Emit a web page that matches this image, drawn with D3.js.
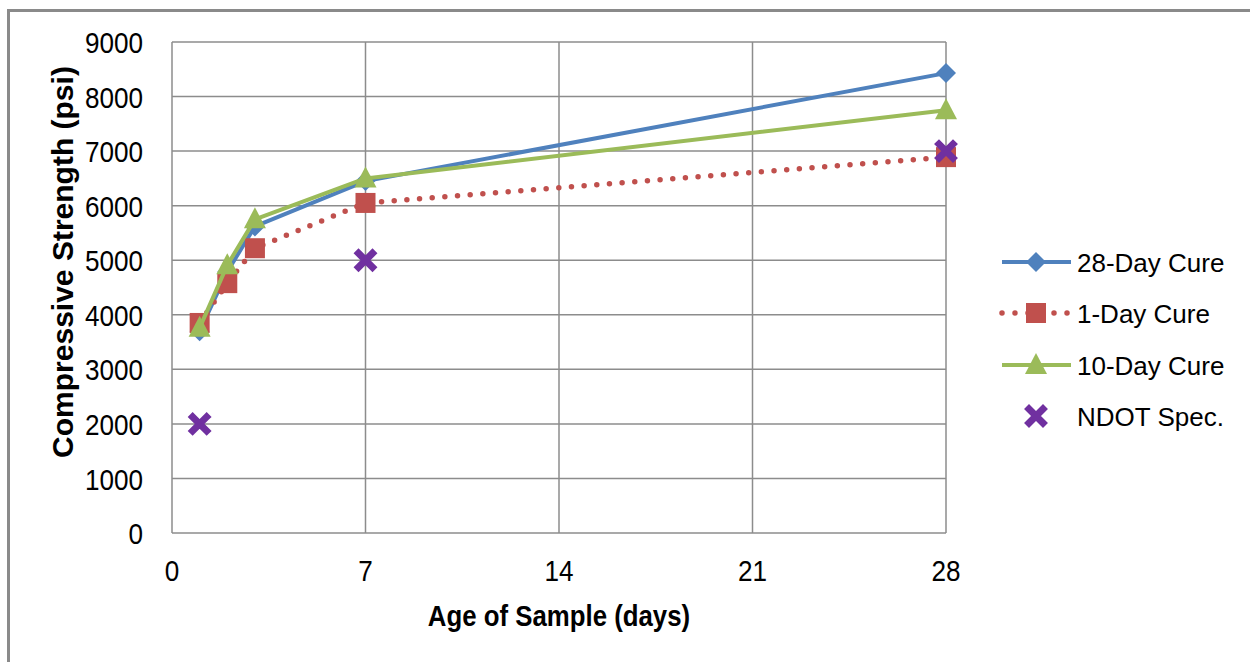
<!DOCTYPE html>
<html>
<head>
<meta charset="utf-8">
<script src="https://cdn.jsdelivr.net/npm/d3@7"></script>
<style>
  html, body { margin: 0; padding: 0; background: #fff; }
  svg { display: block; }
  text { font-family: "Liberation Sans", Arial, sans-serif; fill: #000; }
</style>
</head>
<body>
<svg id="chart" width="1250" height="662"></svg>
<script>
// Sample ages (days) and compressive strengths (psi)
const ages = [1, 2, 3, 7, 28];
const cure28 = [3700, 4790, 5620, 6450, 8430];
const cure1 = [3850, 4580, 5220, 6050, 6890];
const cure10 = [3760, 4910, 5750, 6500, 7750];
const ndotAges = [1, 7, 28];
const ndotSpec = [2000, 5000, 7000];

const xTicks = [0, 7, 14, 21, 28];
const yTicks = [0, 1000, 2000, 3000, 4000, 5000, 6000, 7000, 8000, 9000];

const seriesNames = ["28-Day Cure", "1-Day Cure", "10-Day Cure", "NDOT Spec."];
const seriesColors = ["#4F81BD", "#C0504D", "#9BBB59", "#7030A0"];
const seriesMarkers = ["diamond", "square", "triangle", "cross"];

const svg = d3.select("#chart");
const plot = { left: 172, right: 946, top: 42, bottom: 533 };

const x = d3.scaleLinear().domain([0, 28]).range([plot.left, plot.right]);
const y = d3.scaleLinear().domain([0, 9000]).range([plot.bottom, plot.top]);

// Outer chart frame
svg.append("rect")
  .attr("x", 8.5).attr("y", 10.5)
  .attr("width", 1300).attr("height", 700)
  .attr("fill", "none").attr("stroke", "#8a8a8a").attr("stroke-width", 3);

// Gridlines
const grid = svg.append("g").attr("stroke", "#8c8c8c").attr("stroke-width", 1.5);
grid.selectAll("line.h").data(yTicks).join("line")
  .attr("x1", plot.left).attr("x2", plot.right)
  .attr("y1", d => y(d)).attr("y2", d => y(d));
grid.selectAll("line.v").data(xTicks).join("line")
  .attr("y1", plot.top).attr("y2", plot.bottom)
  .attr("x1", d => x(d)).attr("x2", d => x(d));

// Text with a horizontal scale factor
function label(g, tx, ty, str, opts) {
  const o = Object.assign({ size: 29, sx: 1, anchor: "middle", weight: "normal", rotate: 0 }, opts);
  return g.append("text")
    .attr("transform", `translate(${tx},${ty}) rotate(${o.rotate}) scale(${o.sx},1)`)
    .attr("text-anchor", o.anchor)
    .attr("dominant-baseline", "central")
    .style("font-size", o.size + "px")
    .style("font-weight", o.weight)
    .text(str);
}

// Axis tick labels
const axisG = svg.append("g");
yTicks.forEach(t => label(axisG, 143, y(t) + 1, d3.format("d")(t), { anchor: "end", size: 30, sx: 0.87 }));
xTicks.forEach(t => label(axisG, x(t), 571, t, { size: 30, sx: 0.87 }));

// Axis titles
label(axisG, (plot.left + plot.right) / 2, 616, "Age of Sample (days)", { weight: "bold", size: 30, sx: 0.86 });
label(axisG, 62, 262, "Compressive Strength (psi)", { weight: "bold", size: 30, rotate: -90 });

// Marker shapes
function drawMarker(g, kind, cx, cy, color) {
  if (kind === "diamond") {
    g.append("path").attr("d", `M${cx},${cy - 10}L${cx + 10},${cy}L${cx},${cy + 10}L${cx - 10},${cy}Z`).attr("fill", color);
  } else if (kind === "square") {
    g.append("rect").attr("x", cx - 10).attr("y", cy - 10).attr("width", 20).attr("height", 20).attr("fill", color);
  } else if (kind === "triangle") {
    g.append("path").attr("d", `M${cx},${cy - 12}L${cx + 11},${cy + 9}L${cx - 11},${cy + 9}Z`).attr("fill", color);
  } else if (kind === "cross") {
    const a = 7;
    g.append("path").attr("d", `M${cx - a},${cy - a}L${cx + a},${cy + a}M${cx + a},${cy - a}L${cx - a},${cy + a}`)
      .attr("stroke", color).attr("stroke-width", 7).attr("stroke-linecap", "square").attr("fill", "none");
  }
}

const line = d3.line().x(d => x(d[0])).y(d => y(d[1]));
const series = [
  { pts: d3.zip(ages, cure28), dashed: false, line: true },
  { pts: d3.zip(ages, cure1), dashed: true, line: true },
  { pts: d3.zip(ages, cure10), dashed: false, line: true },
  { pts: d3.zip(ndotAges, ndotSpec), dashed: false, line: false }
];

series.forEach((s, i) => {
  const g = svg.append("g");
  if (s.line) {
    const p = g.append("path").attr("d", line(s.pts))
      .attr("fill", "none").attr("stroke", seriesColors[i])
      .attr("stroke-linejoin", "round");
    if (s.dashed) {
      p.attr("stroke-width", 5.5).attr("stroke-linecap", "round").attr("stroke-dasharray", "0 12.7");
    } else {
      p.attr("stroke-width", 4);
    }
  }
  s.pts.forEach(d => drawMarker(g, seriesMarkers[i], x(d[0]), y(d[1]), seriesColors[i]));
});

// Legend
const legendY = [262, 313, 365, 416];
const leg = svg.append("g");
seriesNames.forEach((name, i) => {
  const ly = legendY[i];
  if (i < 3) {
    const l = leg.append("line").attr("x1", 1002).attr("x2", 1071).attr("y1", ly).attr("y2", ly)
      .attr("stroke", seriesColors[i]);
    if (i === 1) {
      l.attr("stroke-width", 5.5).attr("stroke-linecap", "round").attr("stroke-dasharray", "0 13");
    } else {
      l.attr("stroke-width", 4);
    }
  }
  drawMarker(leg, seriesMarkers[i], 1036, ly, seriesColors[i]);
  label(leg, 1077, ly + 1, name, { anchor: "start", size: 26, sx: 1.0 });
});
</script>
</body>
</html>
